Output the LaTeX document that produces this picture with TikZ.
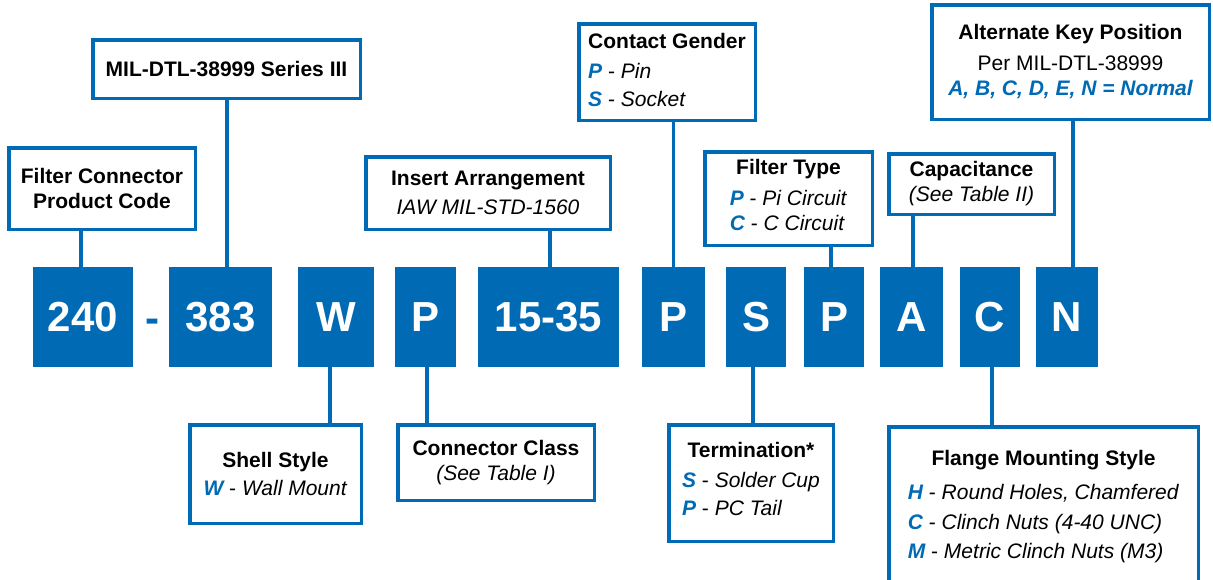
\documentclass[tikz,border=0pt]{standalone}
\usepackage{fontspec}
\setmainfont{Liberation Sans}
\definecolor{pnblue}{RGB}{0,106,180}
\newcommand{\infofont}{\fontsize{21}{25}\selectfont}
\newcommand{\codefont}{\fontsize{42}{50}\selectfont\bfseries}
\newcommand{\opt}[2]{\textcolor{pnblue}{\bfseries\itshape #1} - \textit{#2}}
\newcommand{\optlist}[1]{\begin{tabular}[t]{@{}l@{}}#1\end{tabular}}
\begin{document}
\begin{tikzpicture}[x=1pt, y=-1pt,
        codebox/.style={fill=pnblue, text=white, font=\codefont, minimum height=100, inner sep=0},
        infobox/.style={draw=pnblue, line width=3.5pt, fill=white, align=center, font=\infofont, inner sep=0},
        link/.style={pnblue, line width=3.5pt}]
        \useasboundingbox (0,0) rectangle (1213,579);
        \node[codebox, minimum width=100] (kProd) at (83,317) {240};
        \node[font=\codefont, text=pnblue, anchor=base, inner sep=0] (dash) at (152,332) {-};
        \node[codebox, minimum width=103] (kSeries) at (220.5,317) {383};
        \node[codebox, minimum width=76] (kShell) at (336,317) {W};
        \node[codebox, minimum width=61] (kClass) at (425.5,317) {P};
        \node[codebox, minimum width=141] (kInsert) at (548.5,317) {15-35};
        \node[codebox, minimum width=63] (kGender) at (673.5,317) {P};
        \node[codebox, minimum width=60] (kTerm) at (756,317) {S};
        \node[codebox, minimum width=60] (kFilter) at (834,317) {P};
        \node[codebox, minimum width=63] (kCap) at (911.5,317) {A};
        \node[codebox, minimum width=60] (kFlange) at (990,317) {C};
        \node[codebox, minimum width=62] (kKey) at (1067,317) {N};
        \node[infobox, minimum width=186.5, minimum height=81.5] (prod) at (102,188.5) {\textbf{Filter Connector}\\\textbf{Product Code}};
        \node[infobox, minimum width=267.5, minimum height=58.5] (series) at (226.5,69) {\textbf{MIL-DTL-38999 Series III}};
        \node[infobox, minimum width=244.5, minimum height=72.5] (insert) at (488,193) {\textbf{Insert Arrangement}\\[4pt]\textit{IAW MIL-STD-1560}};
        \node[infobox, minimum width=176.5, minimum height=96.5] (gender) at (667,72) {\optlist{\textbf{Contact Gender}\\[5pt]\opt{P}{Pin}\\[3pt]\opt{S}{Socket}}};
        \node[infobox, minimum width=167.5, minimum height=93.5] (filter) at (788.5,198.5) {\textbf{Filter Type}\\[6pt]\optlist{\opt{P}{Pi Circuit}\\\opt{C}{C Circuit}}};
        \node[infobox, minimum width=165.5, minimum height=60.5] (cap) at (971.5,184) {\textbf{Capacitance}\\\textit{(See Table II)}};
        \node[infobox, minimum width=277.5, minimum height=114.5] (key) at (1070.5,62) {\textbf{Alternate Key Position}\\[6pt]Per MIL-DTL-38999\\\textcolor{pnblue}{\bfseries\itshape A, B, C, D, E, N = Normal}};
        \node[infobox, minimum width=171.5, minimum height=98.5] (shell) at (275.5,474) {\textbf{Shell Style}\\[3pt]\opt{W}{Wall Mount}};
        \node[infobox, minimum width=196.5, minimum height=75.5] (class) at (496,462.5) {\textbf{Connector Class}\\\textit{(See Table I)}};
        \node[infobox, minimum width=164.5, minimum height=116.5] (term) at (751,483) {\textbf{Termination*}\\[5pt]\optlist{\opt{S}{Solder Cup}\\[3pt]\opt{P}{PC Tail}}};
        \node[infobox, minimum width=309.5, minimum height=163] (flange) at (1043.5,508.25) {\textbf{Flange Mounting Style}\\[9pt]\optlist{\opt{H}{Round Holes, Chamfered}\\[5pt]\opt{C}{Clinch Nuts (4-40 UNC)}\\[4pt]\opt{M}{Metric Clinch Nuts (M3)}}};
        \foreach \c/\b/\dx in {kProd/prod/-2, kSeries/series/6.5, kInsert/insert/1.5, kGender/gender/0, kFilter/filter/-3, kCap/cap/1.5, kKey/key/6}
            \draw[link] ([xshift=\dx]\c.north) -- ([xshift=\dx]\c.north |- \b.south);
        \foreach \c/\b/\dx in {kShell/shell/-6, kClass/class/1.5, kTerm/term/-3, kFlange/flange/2}
            \draw[link] ([xshift=\dx]\c.south) -- ([xshift=\dx]\c.south |- \b.north);
    \end{tikzpicture}
\end{document}
